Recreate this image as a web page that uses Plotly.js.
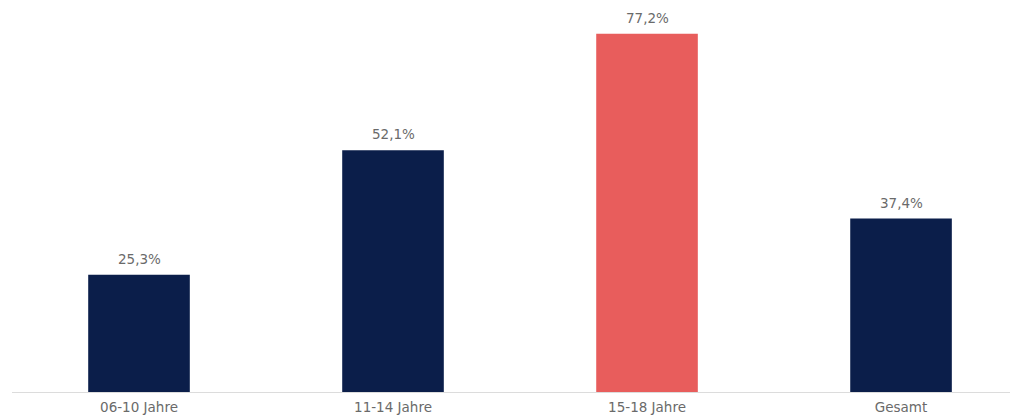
<!DOCTYPE html>
<html><head><meta charset="utf-8">
<script src="https://cdn.plot.ly/plotly-3.0.1.min.js"></script>
<style>html,body{margin:0;padding:0;background:#fff}</style>
</head><body>
<div id="chart" style="width:1010px;height:420px"></div>
<script>
const categories = ["06-10 Jahre", "11-14 Jahre", "15-18 Jahre", "Gesamt"];
const values = [25.3, 52.1, 77.2, 37.4];
const barColors = ["#0b1e4a", "#0b1e4a", "#e85d5c", "#0b1e4a"];
const labels = values.map(v => v.toFixed(1).replace(".", ",") + "%");

const font = {family: "'DejaVu Sans', sans-serif", size: 13.5, color: "#6a6a6a"};

Plotly.newPlot("chart", [{
  type: "bar",
  x: categories,
  y: values,
  marker: {color: barColors},
  hoverinfo: "none"
}], {
  width: 1010, height: 420,
  margin: {l: 12, r: 0, t: 0, b: 28},
  bargap: 0.6,
  paper_bgcolor: "#fff", plot_bgcolor: "#fff",
  showlegend: false,
  annotations: categories.map((c, i) => ({
    x: c, y: values[i], text: labels[i], showarrow: false,
    xanchor: "center", yanchor: "bottom", yshift: 6, font: font
  })),
  xaxis: {
    range: [-0.5, 3.429],
    showline: true, linecolor: "#dcdcdc", linewidth: 1,
    ticks: "", showgrid: false, zeroline: false,
    ticklabelstandoff: 3,
    tickfont: font
  },
  yaxis: {
    range: [0, 84.5],
    visible: false, showgrid: false, zeroline: false
  }
}, {displayModeBar: false, staticPlot: true});
</script>
</body></html>
